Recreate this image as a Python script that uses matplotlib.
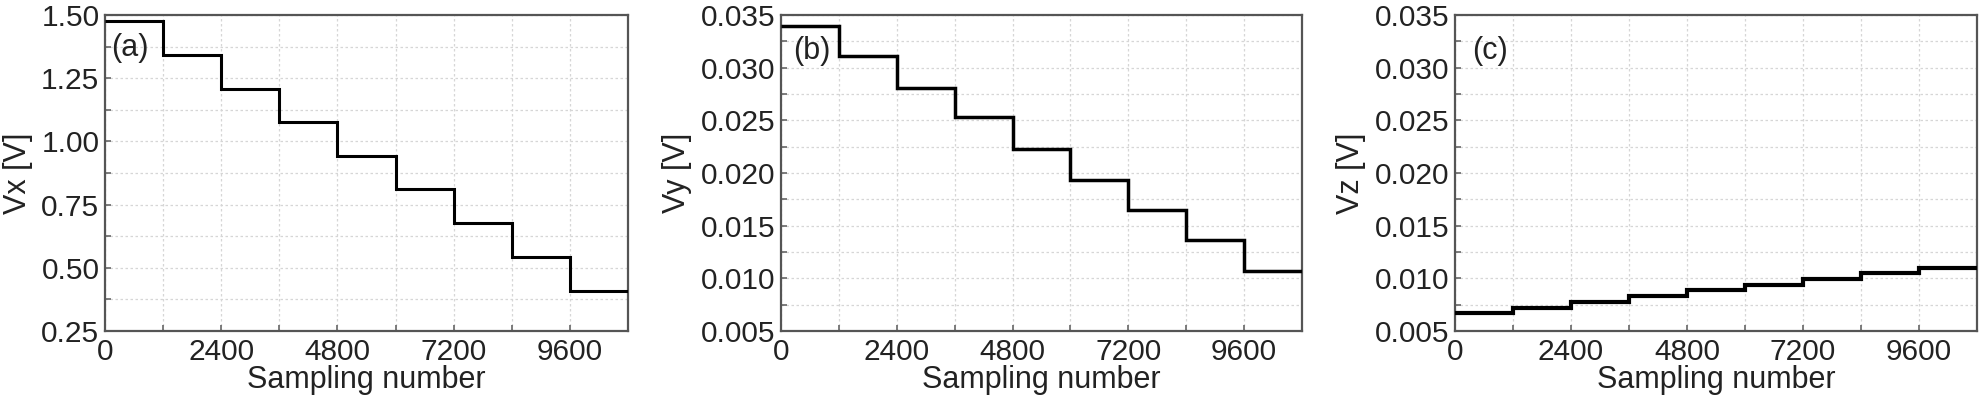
import matplotlib
matplotlib.use("Agg")
import matplotlib.pyplot as plt
from matplotlib.ticker import MultipleLocator, FormatStrFormatter

plt.rcParams['font.family'] = ['Liberation Sans', 'DejaVu Sans']

# Data
step_edges = [0, 1200, 2400, 3600, 4800, 6000, 7200, 8400, 9600, 10800]
vx = [1.476, 1.342, 1.209, 1.076, 0.943, 0.810, 0.677, 0.543, 0.410]
vy = [0.0340, 0.0311, 0.0281, 0.0253, 0.0223, 0.0193, 0.0165, 0.0136, 0.0107]
vz = [0.0067, 0.0072, 0.0078, 0.00835, 0.0089, 0.0094, 0.0099, 0.0105, 0.0110]
x_ticks = [0, 2400, 4800, 7200, 9600]
panel_labels = ["(a)", "(b)", "(c)"]
y_labels = ["Vx [V]", "Vy [V]", "Vz [V]"]
x_label = "Sampling number"

W, H = 1981, 400
fig = plt.figure(figsize=(W / 100, H / 100), dpi=100)

lefts = [105, 781, 1455]
widths = [523, 521, 522]
top_px, bot_px = 15, 331

series = [vx, vy, vz]
ylims = [(0.25, 1.50), (0.005, 0.035), (0.005, 0.035)]
ymaj = [0.25, 0.005, 0.005]
fmts = ['%.2f', '%.3f', '%.3f']
lws = [2.2, 2.5, 3.0]
lab_x = [0.012, 0.024, 0.033]
lab_y = [0.895, 0.885, 0.885]

for i in range(3):
    ax = fig.add_axes([lefts[i] / W, (H - bot_px) / H, widths[i] / W, (bot_px - top_px) / H])
    ax.stairs(series[i], step_edges, baseline=None, color='black', linewidth=lws[i], zorder=3)
    ax.set_xlim(0, 10800)
    ax.set_ylim(*ylims[i])
    ax.xaxis.set_major_locator(plt.FixedLocator(x_ticks))
    ax.xaxis.set_minor_locator(MultipleLocator(1200))
    ax.yaxis.set_major_locator(MultipleLocator(ymaj[i]))
    ax.yaxis.set_minor_locator(MultipleLocator(ymaj[i] / 2))
    ax.yaxis.set_major_formatter(FormatStrFormatter(fmts[i]))
    ax.grid(True, which='both', color='#d6d6d6', linestyle=(0, (2, 2)), linewidth=0.9, zorder=0)
    ax.tick_params(which='both', direction='in', length=4, width=1.2, color='#666666',
                   labelsize=21.5, labelcolor='#222222', pad=4)
    ax.tick_params(axis='x', pad=5)
    for sp in ax.spines.values():
        sp.set_color('#555555')
        sp.set_linewidth(1.6)
    ax.set_xlabel(x_label, fontsize=22, color='#222222', labelpad=-0.5)
    ax.set_ylabel(y_labels[i], fontsize=22, color='#222222', labelpad=6)
    ax.text(lab_x[i], lab_y[i], panel_labels[i], transform=ax.transAxes, fontsize=22,
            color='#222222', ha='left', va='center', zorder=4)

fig.savefig('out.png', dpi=100)
